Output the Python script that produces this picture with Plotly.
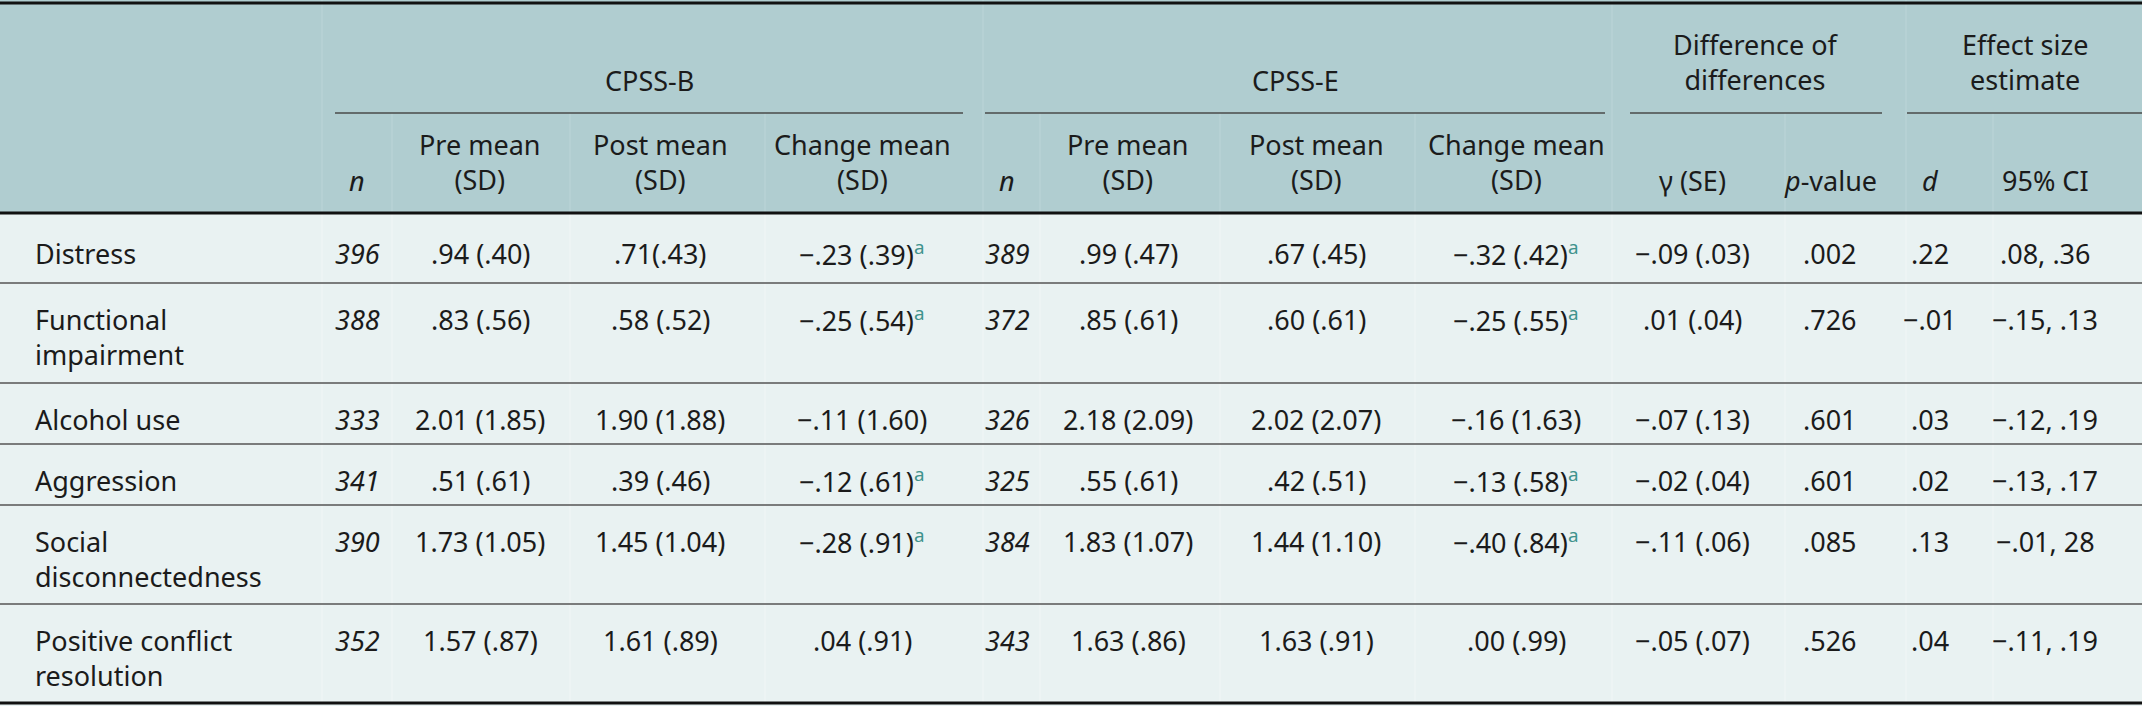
import plotly.graph_objects as go

# ---- table data ----
measures = ["Distress", "Functional<br>impairment", "Alcohol use", "Aggression",
            "Social<br>disconnectedness", "Positive conflict<br>resolution"]
b_n = [396, 388, 333, 341, 390, 352]
b_pre = [".94 (.40)", ".83 (.56)", "2.01 (1.85)", ".51 (.61)", "1.73 (1.05)", "1.57 (.87)"]
b_post = [".71(.43)", ".58 (.52)", "1.90 (1.88)", ".39 (.46)", "1.45 (1.04)", "1.61 (.89)"]
b_change = ["−.23 (.39)", "−.25 (.54)", "−.11 (1.60)", "−.12 (.61)", "−.28 (.91)", ".04 (.91)"]
b_sig = [True, True, False, True, True, False]
e_n = [389, 372, 326, 325, 384, 343]
e_pre = [".99 (.47)", ".85 (.61)", "2.18 (2.09)", ".55 (.61)", "1.83 (1.07)", "1.63 (.86)"]
e_post = [".67 (.45)", ".60 (.61)", "2.02 (2.07)", ".42 (.51)", "1.44 (1.10)", "1.63 (.91)"]
e_change = ["−.32 (.42)", "−.25 (.55)", "−.16 (1.63)", "−.13 (.58)", "−.40 (.84)", ".00 (.99)"]
e_sig = [True, True, False, True, True, False]
gamma_se = ["−.09 (.03)", ".01 (.04)", "−.07 (.13)", "−.02 (.04)", "−.11 (.06)", "−.05 (.07)"]
p_value = [".002", ".726", ".601", ".601", ".085", ".526"]
d_est = [".22", "−.01", ".03", ".02", ".13", ".04"]
ci_95 = [".08, .36", "−.15, .13", "−.12, .19", "−.13, .17", "−.01, 28", "−.11, .19"]

group_titles = ["CPSS-B", "CPSS-E", "Difference of<br>differences", "Effect size<br>estimate"]
sub_titles = ["n", "Pre mean<br>(SD)", "Post mean<br>(SD)", "Change mean<br>(SD)",
              "n", "Pre mean<br>(SD)", "Post mean<br>(SD)", "Change mean<br>(SD)",
              "γ (SE)", "<i>p</i>-value", "d", "95% CI"]
italic_sub = [True, False, False, False, True, False, False, False, False, False, True, False]

# ---- layout constants ----
W, H = 2142, 706
FONT = "Noto Sans"
FS = 27
LINE = FS * 1.3
TXT = "#1b1b1b"
HEAD_BG = "#b0cdd0"
BODY_BG = "#e9f2f2"
SUP = "#3f928d"

col_x = [357, 480, 660, 862, 1007, 1128, 1316, 1516, 1692, 1830, 1930, 2045]
col_edges = [322, 392, 570, 765, 983, 1040, 1220, 1415, 1612, 1785, 1906, 1993]
group_span = [(335, 963), (985, 1605), (1630, 1882), (1907, 2142)]
header_bottom = 213
underline_y = 113
row_bounds = [213, 283, 383, 444, 505, 604, 703]


def sup(txt, flag):
    return txt + (f"<sup style='color:{SUP}'>a</sup>" if flag else "")


columns = [
    [str(v) for v in b_n], b_pre, b_post,
    [sup(v, s) for v, s in zip(b_change, b_sig)],
    [str(v) for v in e_n], e_pre, e_post,
    [sup(v, s) for v, s in zip(e_change, e_sig)],
    gamma_se, p_value, d_est, ci_95,
]
italic_col = [True, False, False, False, True, False, False, False, False, False, False, False]

fig = go.Figure()
shapes = []
ann = []

# backgrounds
shapes.append(dict(type="rect", x0=0, x1=W, y0=0, y1=header_bottom, fillcolor=HEAD_BG, line_width=0, layer="below"))
shapes.append(dict(type="rect", x0=0, x1=W, y0=header_bottom, y1=H, fillcolor=BODY_BG, line_width=0, layer="below"))

# faint column separators
for i, x in enumerate(col_edges):
    top = 0 if i in (0, 4, 8, 10) else underline_y
    shapes.append(dict(type="line", x0=x, x1=x, y0=top, y1=header_bottom,
                       line=dict(color="rgba(255,255,255,0.15)", width=1.2)))
    shapes.append(dict(type="line", x0=x, x1=x, y0=header_bottom, y1=row_bounds[-1],
                       line=dict(color="rgba(255,255,255,0.35)", width=1.2)))

# rules
for y, w, c in [(3, 3, "#111111"), (header_bottom, 3, "#111111"), (row_bounds[-1], 3, "#111111")]:
    shapes.append(dict(type="line", x0=0, x1=W, y0=y, y1=y, line=dict(color=c, width=w)))
for y in row_bounds[1:-1]:
    shapes.append(dict(type="line", x0=0, x1=W, y0=y, y1=y, line=dict(color="#555555", width=1.6)))
for x0, x1 in group_span:
    shapes.append(dict(type="line", x0=x0, x1=x1, y0=underline_y, y1=underline_y,
                       line=dict(color="#4a4a4a", width=1.6)))


def text(x, y, s, xa="center", align="center", italic=False):
    ann.append(dict(x=x, y=y, text=s, xref="x", yref="y", showarrow=False,
                    xanchor=xa, yanchor="middle", align=align,
                    font=dict(family=FONT, size=FS, color=TXT,
                              style="italic" if italic else "normal")))


# group headers (bottom aligned)
for (x0, x1), t in zip(group_span, group_titles):
    nl = t.count("<br>")
    text((x0 + x1) / 2, 80 - nl * LINE / 2, t)

# sub headers (bottom aligned)
for x, t, it in zip(col_x, sub_titles, italic_sub):
    nl = t.count("<br>")
    text(x, 180 - nl * LINE / 2, t, italic=it)

# body
for r, label in enumerate(measures):
    top = row_bounds[r]
    first = top + (40 if r == 0 else 36)
    nl = label.count("<br>")
    text(33, first + nl * LINE / 2, label, xa="left", align="left")
    for x, col, it in zip(col_x, columns, italic_col):
        text(x, first, col[r], italic=it)

fig.update_layout(
    width=W, height=H,
    margin=dict(l=0, r=0, t=0, b=0),
    paper_bgcolor="white", plot_bgcolor="white",
    xaxis=dict(range=[0, W], visible=False, fixedrange=True),
    yaxis=dict(range=[H, 0], visible=False, fixedrange=True),
    shapes=shapes, annotations=ann, showlegend=False,
)

fig.write_html("out.html", config={"displayModeBar": False},
               post_script="document.body.style.margin='0';document.body.style.overflow='hidden';")
